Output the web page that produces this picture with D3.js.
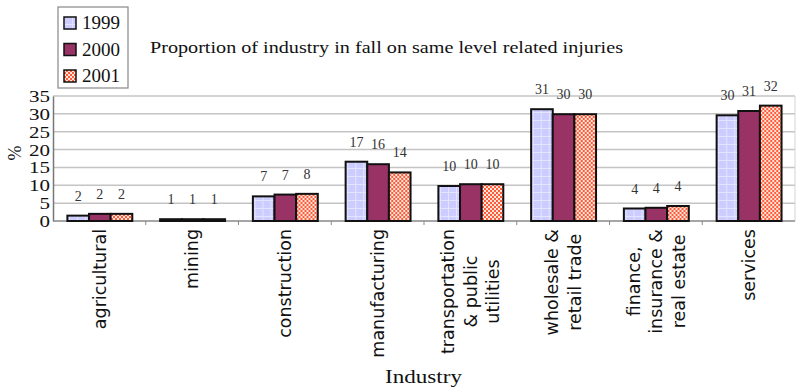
<!DOCTYPE html>
<html>
<head>
<meta charset="utf-8">
<script src="https://cdn.jsdelivr.net/npm/d3@7"></script>
<style>
    body { margin: 0; background: #fff; }
    svg { display: block; }
</style>
</head>
<body>
<svg id="chart" width="800" height="389"></svg>
<script>
// chart data
const categories = [
    "agricultural",
    "mining",
    "construction",
    "manufacturing",
    "transportation\n& public\nutilities",
    "wholesale &\nretail trade",
    "finance,\ninsurance &\nreal estate",
    "services"
];
const years = ["1999", "2000", "2001"];
const values1999 = [1.5, 0.5, 6.9, 16.6, 9.8, 31.3, 3.5, 29.6];
const values2000 = [2.0, 0.5, 7.4, 15.9, 10.3, 29.9, 3.7, 30.8];
const values2001 = [2.0, 0.5, 7.6, 13.6, 10.3, 29.9, 4.2, 32.3];
const yTicks = [0, 5, 10, 15, 20, 25, 30, 35];

const series = [values1999, values2000, values2001];
const fills = ["url(#p1999)", "#993366", "url(#p2001)"];

const plotLeft = 53, plotRight = 795, plotTop = 96, plotBottom = 221;

const svg = d3.select("#chart");

// patterns
const defs = svg.append("defs");
const p1 = defs.append("pattern")
    .attr("id", "p1999")
    .attr("patternUnits", "userSpaceOnUse")
    .attr("width", 8).attr("height", 8);
p1.append("rect").attr("width", 8).attr("height", 8).attr("fill", "#ccccff");
p1.append("rect").attr("width", 8).attr("height", 1).attr("fill", "#e4e4ff");
p1.append("rect").attr("width", 1).attr("height", 8).attr("fill", "#e4e4ff");

const p3 = defs.append("pattern")
    .attr("id", "p2001")
    .attr("patternUnits", "userSpaceOnUse")
    .attr("width", 4).attr("height", 4);
p3.append("rect").attr("width", 4).attr("height", 4).attr("fill", "#ffe4d8");
p3.append("rect").attr("width", 2).attr("height", 2).attr("fill", "#ff5a3a");
p3.append("rect").attr("x", 2).attr("y", 2).attr("width", 2).attr("height", 2).attr("fill", "#ff5a3a");

// scales
const x0 = d3.scaleBand()
    .domain(categories)
    .range([plotLeft, plotRight])
    .paddingInner(0)
    .paddingOuter(0);
const x1 = d3.scaleBand()
    .domain(years)
    .range([x0.bandwidth() * 0.155, x0.bandwidth() * 0.855]);
const y = d3.scaleLinear()
    .domain([0, 35])
    .range([plotBottom, plotTop]);

// gridlines
svg.append("g")
    .selectAll("line")
    .data(yTicks.filter(d => d > 0))
    .join("line")
    .attr("x1", plotLeft).attr("x2", plotRight)
    .attr("y1", d => y(d)).attr("y2", d => y(d))
    .attr("stroke", "#c4c4c4")
    .attr("stroke-width", 1.5);

svg.append("line")
    .attr("x1", plotRight).attr("x2", plotRight)
    .attr("y1", plotTop).attr("y2", plotBottom)
    .attr("stroke", "#d4d4d4");

// y axis
const yAxis = svg.append("g")
    .attr("transform", `translate(${plotLeft},0)`)
    .call(d3.axisLeft(y).tickValues(yTicks).tickSize(0).tickPadding(3));
yAxis.select(".domain").attr("stroke", "#777").attr("stroke-width", 1.5);
yAxis.selectAll("text")
    .attr("font-family", "Liberation Serif, serif")
    .attr("font-size", 16)
    .attr("fill", "#111")
    .attr("dy", "0.34em")
    .attr("textLength", d => String(d).length * 10.5)
    .attr("lengthAdjust", "spacingAndGlyphs");

// x axis line and ticks between categories
svg.append("line")
    .attr("x1", plotLeft).attr("x2", plotRight)
    .attr("y1", plotBottom).attr("y2", plotBottom)
    .attr("stroke", "#888").attr("stroke-width", 1.5);
svg.append("g")
    .selectAll("line")
    .data(categories.slice(1))
    .join("line")
    .attr("x1", d => x0(d)).attr("x2", d => x0(d))
    .attr("y1", plotBottom).attr("y2", plotBottom + 4)
    .attr("stroke", "#888");

// bars
const groups = svg.append("g")
    .selectAll("g")
    .data(categories)
    .join("g")
    .attr("transform", d => `translate(${x0(d)},0)`);

groups.selectAll("rect")
    .data((d, i) => years.map((yr, k) => ({ year: yr, k: k, value: series[k][i] })))
    .join("rect")
    .attr("x", d => x1(d.year))
    .attr("width", x1.bandwidth())
    .attr("y", d => y(d.value))
    .attr("height", d => y(0) - y(d.value))
    .attr("fill", d => fills[d.k])
    .attr("stroke", "#111")
    .attr("stroke-width", 2);

// value labels
groups.selectAll("text.val")
    .data((d, i) => years.map((yr, k) => ({ year: yr, k: k, value: series[k][i] })))
    .join("text")
    .attr("class", "val")
    .attr("x", d => x1(d.year) + x1.bandwidth() / 2)
    .attr("y", d => y(d.value) - 15)
    .attr("text-anchor", "middle")
    .attr("font-family", "Liberation Serif, serif")
    .attr("font-size", 14)
    .attr("fill", "#333")
    .text(d => Math.round(d.value));

// category labels (rotated, lines centred on the longest line)
const catG = svg.append("g")
    .selectAll("g")
    .data(categories)
    .join("g")
    .attr("transform", d => `translate(${x0(d) + x0.bandwidth() / 2},229) rotate(-90)`);

catG.each(function (d) {
    const g = d3.select(this);
    const lines = d.split("\n");
    const n = lines.length;
    const texts = g.selectAll("text")
        .data(lines)
        .join("text")
        .attr("font-family", "DejaVu Sans, sans-serif")
        .attr("font-size", 17.5)
        .attr("fill", "#111")
        .attr("y", (l, j) => (j - (n - 1) / 2) * 22.5)
        .attr("dy", "0.35em")
        .text(l => l);
    let maxW = 0;
    texts.each(function () { maxW = Math.max(maxW, this.getComputedTextLength()); });
    texts.attr("x", -maxW / 2).attr("text-anchor", "middle");
});

// title
svg.append("text")
    .attr("x", 150)
    .attr("y", 53)
    .attr("font-family", "Liberation Serif, serif")
    .attr("font-size", 16.5)
    .attr("textLength", 473)
    .attr("lengthAdjust", "spacingAndGlyphs")
    .attr("fill", "#111")
    .text("Proportion of industry in fall on same level related injuries");

// axis titles
svg.append("text")
    .attr("transform", "translate(21,153) rotate(-90)")
    .attr("text-anchor", "middle")
    .attr("font-family", "Liberation Serif, serif")
    .attr("font-size", 18)
    .attr("fill", "#111")
    .text("%");

svg.append("text")
    .attr("x", 385)
    .attr("y", 383)
    .attr("font-family", "Liberation Serif, serif")
    .attr("font-size", 19)
    .attr("textLength", 77)
    .attr("lengthAdjust", "spacingAndGlyphs")
    .attr("fill", "#111")
    .text("Industry");

// legend
const legend = svg.append("g");
legend.append("rect")
    .attr("x", 58).attr("y", 7)
    .attr("width", 70).attr("height", 81)
    .attr("fill", "#fff")
    .attr("stroke", "#888")
    .attr("stroke-width", 1.2);
const legY = d3.scalePoint().domain(years).range([23, 76]);
legend.selectAll("rect.sw")
    .data(years)
    .join("rect")
    .attr("class", "sw")
    .attr("x", 64).attr("y", d => legY(d) - 6)
    .attr("width", 12).attr("height", 12)
    .attr("fill", (d, k) => fills[k])
    .attr("stroke", "#111")
    .attr("stroke-width", 1.5);
legend.selectAll("text")
    .data(years)
    .join("text")
    .attr("x", 82).attr("y", d => legY(d) + 6)
    .attr("font-family", "Liberation Serif, serif")
    .attr("font-size", 19)
    .attr("textLength", 38)
    .attr("lengthAdjust", "spacingAndGlyphs")
    .attr("fill", "#111")
    .text(d => d);
</script>
</body>
</html>
